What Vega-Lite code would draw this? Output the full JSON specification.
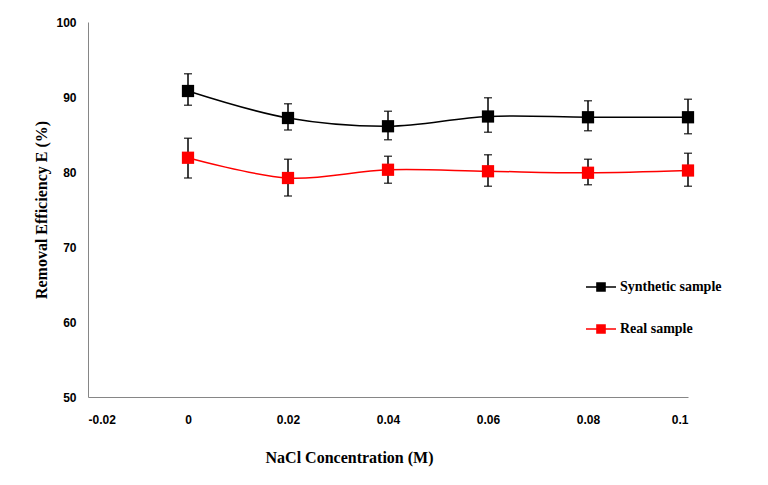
{
  "$schema": "https://vega.github.io/schema/vega-lite/v6.json",
  "width": 600,
  "height": 375,
  "autosize": {"type": "none"},
  "padding": {"left": 88, "top": 22, "right": 80, "bottom": 88},
  "background": "white",
  "config": {
    "view": {"stroke": null},
    "axis": {
      "grid": false,
      "ticks": false,
      "domainColor": "#868686",
      "domainWidth": 1,
      "labelFont": "Liberation Sans",
      "labelFontWeight": "bold",
      "labelFontSize": 12,
      "labelColor": "black",
      "titleFont": "Liberation Serif",
      "titleFontWeight": "bold",
      "titleFontSize": 16,
      "titleColor": "black"
    }
  },
  "data": {
    "values": [
      {"x": 0, "y": 90.8, "lo": 88.9, "hi": 93.1, "series": "Synthetic sample"},
      {"x": 0.02, "y": 87.2, "lo": 85.6, "hi": 89.1, "series": "Synthetic sample"},
      {"x": 0.04, "y": 86.1, "lo": 84.3, "hi": 88.1, "series": "Synthetic sample"},
      {"x": 0.06, "y": 87.4, "lo": 85.3, "hi": 89.9, "series": "Synthetic sample"},
      {"x": 0.08, "y": 87.3, "lo": 85.5, "hi": 89.5, "series": "Synthetic sample"},
      {"x": 0.1, "y": 87.3, "lo": 85.1, "hi": 89.7, "series": "Synthetic sample"},
      {"x": 0, "y": 81.9, "lo": 79.2, "hi": 84.5, "series": "Real sample"},
      {"x": 0.02, "y": 79.2, "lo": 76.8, "hi": 81.7, "series": "Real sample"},
      {"x": 0.04, "y": 80.3, "lo": 78.5, "hi": 82.1, "series": "Real sample"},
      {"x": 0.06, "y": 80.1, "lo": 78.1, "hi": 82.3, "series": "Real sample"},
      {"x": 0.08, "y": 79.9, "lo": 78.3, "hi": 81.7, "series": "Real sample"},
      {"x": 0.1, "y": 80.2, "lo": 78.1, "hi": 82.5, "series": "Real sample"}
    ]
  },
  "encoding": {
    "x": {
      "field": "x", "type": "quantitative",
      "scale": {"domain": [-0.02, 0.1], "nice": false},
      "axis": {
        "values": [-0.02, 0, 0.02, 0.04, 0.06, 0.08, 0.1],
        "labelExpr": "toString(round(datum.value*100)/100)",
        "labelPadding": 17,
        "title": "NaCl Concentration (M)",
        "titlePadding": 24,
        "titleX": 261,
        "titleAnchor": null
      }
    },
    "y": {
      "field": "y", "type": "quantitative",
      "scale": {"domain": [50, 100], "nice": false, "zero": false},
      "axis": {
        "values": [50, 60, 70, 80, 90, 100],
        "labelPadding": 12,
        "title": "Removal Efficiency E (%)",
        "titlePadding": 6
      }
    }
  },
  "layer": [
    {
      "mark": {"type": "rule", "color": "black", "strokeWidth": 1.5},
      "encoding": {
        "y": {"field": "lo", "type": "quantitative", "scale": {"domain": [50, 100], "nice": false, "zero": false}},
        "y2": {"field": "hi"}
      }
    },
    {
      "mark": {"type": "tick", "orient": "horizontal", "size": 8, "thickness": 1.5, "color": "black"},
      "encoding": {"y": {"field": "lo", "type": "quantitative", "scale": {"domain": [50, 100], "nice": false, "zero": false}}}
    },
    {
      "mark": {"type": "tick", "orient": "horizontal", "size": 8, "thickness": 1.5, "color": "black"},
      "encoding": {"y": {"field": "hi", "type": "quantitative", "scale": {"domain": [50, 100], "nice": false, "zero": false}}}
    },
    {
      "mark": {"type": "line", "interpolate": "catmull-rom", "strokeWidth": 1.5},
      "encoding": {
        "color": {
          "field": "series", "type": "nominal",
          "scale": {"domain": ["Synthetic sample", "Real sample"], "range": ["#000000", "#ff0000"]}
        }
      }
    },
    {
      "mark": {"type": "point", "shape": "square", "filled": true, "size": 150, "opacity": 1},
      "encoding": {
        "color": {
          "field": "series", "type": "nominal",
          "scale": {"domain": ["Synthetic sample", "Real sample"], "range": ["#000000", "#ff0000"]},
          "legend": {
            "orient": "none",
            "legendX": 497,
            "legendY": 249,
            "title": null,
            "symbolType": "M-1,0H1M-0.27,-0.27H0.27V0.27H-0.27Z",
            "symbolSize": 900,
            "symbolStrokeWidth": 1.5,
            "labelFont": "Liberation Serif",
            "labelFontWeight": "bold",
            "labelFontSize": 14,
            "labelColor": "black",
            "labelOffset": 3,
            "rowPadding": 18,
            "padding": 0
          }
        }
      }
    }
  ]
}
